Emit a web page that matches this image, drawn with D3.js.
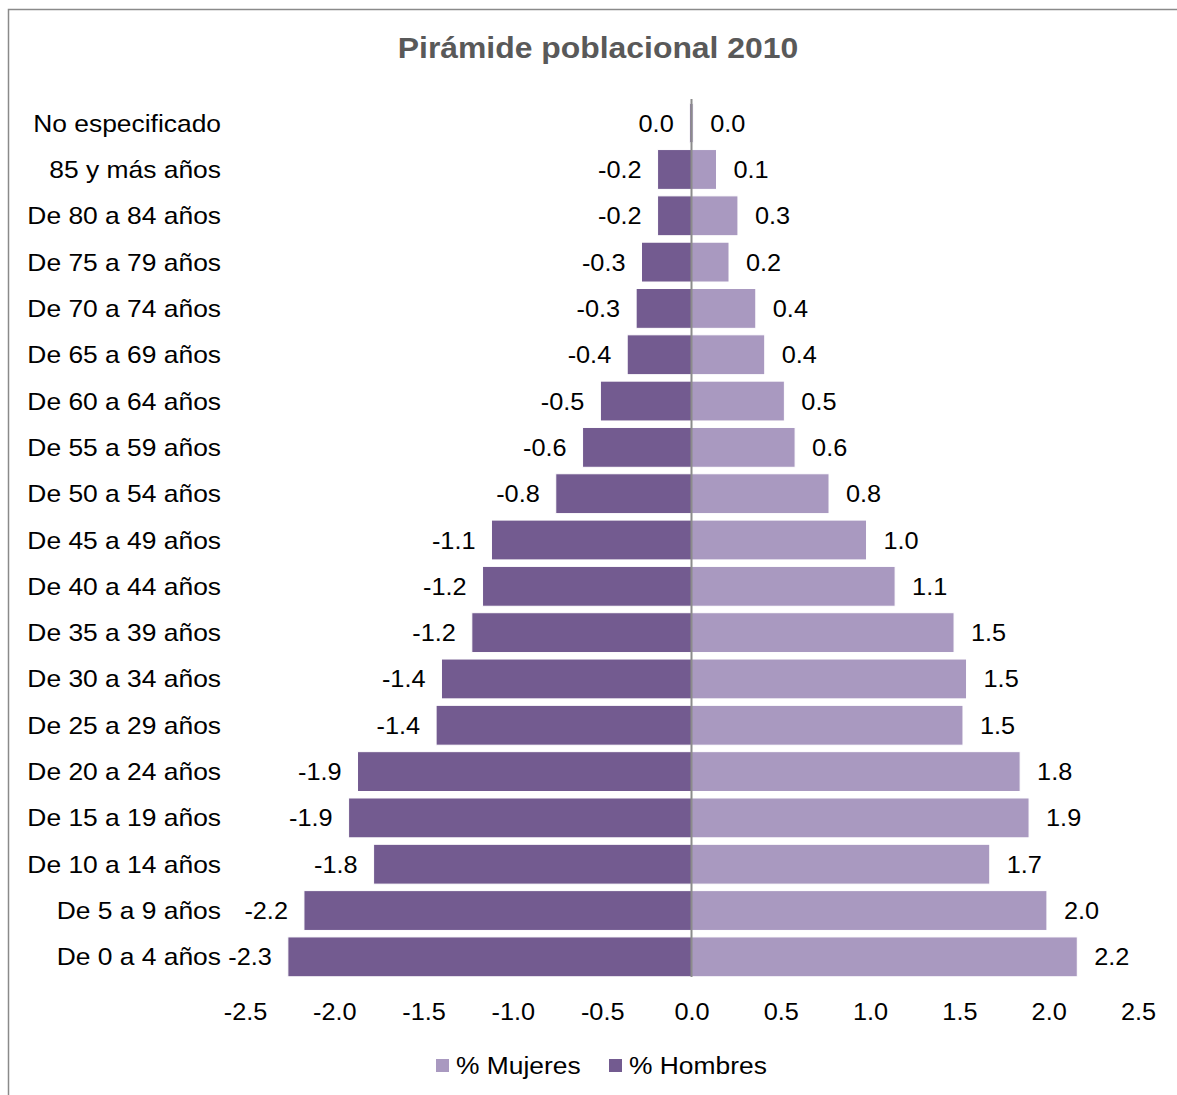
<!DOCTYPE html>
<html>
<head>
<meta charset="utf-8">
<title>Pirámide poblacional 2010</title>
<script src="https://d3js.org/d3.v7.min.js"></script>
<style>
  body { margin: 0; background: #fff; }
  svg text { font-family: Arial, "Liberation Sans", sans-serif; fill: #000; }
</style>
</head>
<body>
<div id="chart"></div>
<script>
// age groups, top to bottom
const groups = ["No especificado", "85 y más años", "De 80 a 84 años", "De 75 a 79 años",
  "De 70 a 74 años", "De 65 a 69 años", "De 60 a 64 años", "De 55 a 59 años",
  "De 50 a 54 años", "De 45 a 49 años", "De 40 a 44 años", "De 35 a 39 años",
  "De 30 a 34 años", "De 25 a 29 años", "De 20 a 24 años", "De 15 a 19 años",
  "De 10 a 14 años", "De 5 a 9 años", "De 0 a 4 años"];
const hombres = [-0.01, -0.19, -0.19, -0.28, -0.31, -0.36, -0.51, -0.61, -0.76, -1.12,
  -1.17, -1.23, -1.40, -1.43, -1.87, -1.92, -1.78, -2.17, -2.26];
const mujeres = [0.01, 0.14, 0.26, 0.21, 0.36, 0.41, 0.52, 0.58, 0.77, 0.98,
  1.14, 1.47, 1.54, 1.52, 1.84, 1.89, 1.67, 1.99, 2.16];
const ticks = [-2.5, -2.0, -1.5, -1.0, -0.5, 0, 0.5, 1.0, 1.5, 2.0, 2.5];

const W = 1177, H = 1095;
const colH = "#735b90", colM = "#a999c0";
const stretch = "scale(1.1,1)"; // reference text is a bit wide

const svg = d3.select("#chart").append("svg")
  .attr("width", W).attr("height", H);

// outer frame
svg.append("rect")
  .attr("x", 8.5).attr("y", 9.5)
  .attr("width", 1400).attr("height", 1400)
  .attr("fill", "none").attr("stroke", "#8a8a8a").attr("stroke-width", 1.5);

const x = d3.scaleLinear().domain([-2.5, 2.5]).range([245, 1138]);
const y = d3.scaleBand().domain(groups).range([100, 980]).paddingInner(0.14).paddingOuter(0.07);

// title
svg.append("text")
  .attr("transform", `translate(598,58) ${stretch}`)
  .attr("text-anchor", "middle")
  .style("font-size", "29px").style("font-weight", "bold")
  .style("fill", "#595959")
  .text("Pirámide poblacional 2010");

// bars
svg.append("g").selectAll("rect")
  .data(groups)
  .join("rect")
  .attr("x", (d, i) => x(hombres[i]))
  .attr("y", d => y(d))
  .attr("width", (d, i) => x(0) - x(hombres[i]))
  .attr("height", y.bandwidth())
  .attr("fill", colH).attr("stroke", "#fff").attr("stroke-width", 1);

svg.append("g").selectAll("rect")
  .data(groups)
  .join("rect")
  .attr("x", x(0))
  .attr("y", d => y(d))
  .attr("width", (d, i) => x(mujeres[i]) - x(0))
  .attr("height", y.bandwidth())
  .attr("fill", colM).attr("stroke", "#fff").attr("stroke-width", 1);

// zero line
svg.append("line")
  .attr("x1", x(0)).attr("x2", x(0))
  .attr("y1", 99).attr("y2", 977)
  .attr("stroke", "#8c8c8c").attr("stroke-width", 2);

// value labels
const mid = d => y(d) + y.bandwidth() / 2 + 8.5;
svg.append("g").selectAll("text")
  .data(groups)
  .join("text")
  .attr("transform", (d, i) => `translate(${x(hombres[i]) - 16},${mid(d)}) ${stretch}`)
  .attr("text-anchor", "end")
  .style("font-size", "23px")
  .text((d, i) => d3.format(".1f")(hombres[i]).replace("−", "-"));

svg.append("g").selectAll("text")
  .data(groups)
  .join("text")
  .attr("transform", (d, i) => `translate(${x(mujeres[i]) + 17},${mid(d)}) ${stretch}`)
  .attr("text-anchor", "start")
  .style("font-size", "23px")
  .text((d, i) => d3.format(".1f")(mujeres[i]));

// category labels
svg.append("g").selectAll("text")
  .data(groups)
  .join("text")
  .attr("transform", d => `translate(221,${mid(d)}) ${stretch}`)
  .attr("text-anchor", "end")
  .style("font-size", "24px")
  .text(d => d);

// x axis (labels only)
const xAxis = svg.append("g")
  .attr("transform", "translate(0,1000)")
  .call(d3.axisBottom(x).tickValues(ticks).tickSize(0).tickPadding(0)
    .tickFormat(d => d3.format(".1f")(d).replace("−", "-")));
xAxis.select(".domain").remove();
xAxis.selectAll("text")
  .attr("dy", null).attr("y", 19.5)
  .attr("transform", stretch)
  .style("font-size", "23px").style("font-family", "Arial, 'Liberation Sans', sans-serif")
  .attr("fill", "#000");

// legend
const legend = [{ name: "% Mujeres", color: colM, x: 436 }, { name: "% Hombres", color: colH, x: 609 }];
const lg = svg.append("g").selectAll("g").data(legend).join("g")
  .attr("transform", d => `translate(${d.x},1059)`);
lg.append("rect").attr("width", 13).attr("height", 13).attr("fill", d => d.color);
lg.append("text")
  .attr("transform", `translate(20,15) ${stretch}`)
  .style("font-size", "24px")
  .text(d => d.name);
</script>
</body>
</html>
